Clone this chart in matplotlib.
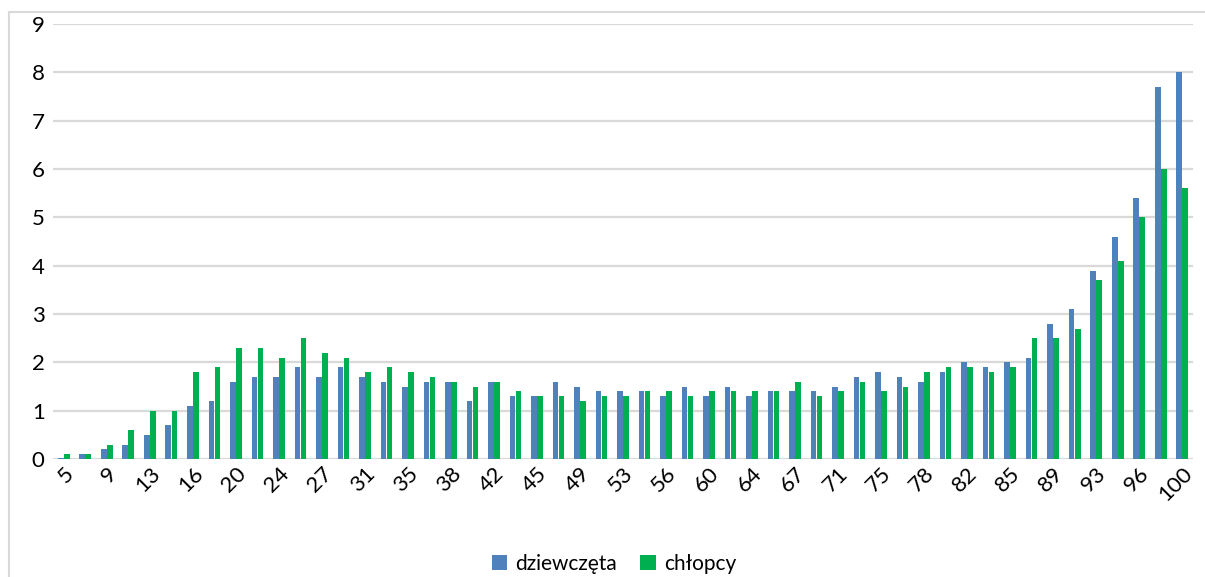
import numpy as np
import matplotlib
matplotlib.use("Agg")
import matplotlib.pyplot as plt
from matplotlib.lines import Line2D

plt.rcParams['font.family'] = ['Lato', 'DejaVu Sans']

tick_labels = ["5", "9", "13", "16", "20", "24", "27", "31", "35", "38", "42", "45", "49",
               "53", "56", "60", "64", "67", "71", "75", "78", "82", "85", "89", "93", "96", "100"]

dziewczeta = [0.02, 0.1, 0.2, 0.3, 0.5, 0.7, 1.1, 1.2, 1.6, 1.7, 1.7, 1.9, 1.7, 1.9, 1.7, 1.6,
              1.5, 1.6, 1.6, 1.2, 1.6, 1.3, 1.3, 1.6, 1.5, 1.4, 1.4, 1.4, 1.3, 1.5, 1.3, 1.5,
              1.3, 1.4, 1.4, 1.4, 1.5, 1.7, 1.8, 1.7, 1.6, 1.8, 2.0, 1.9, 2.0, 2.1, 2.8, 3.1,
              3.9, 4.6, 5.4, 7.7, 8.0]
chlopcy = [0.1, 0.1, 0.3, 0.6, 1.0, 1.0, 1.8, 1.9, 2.3, 2.3, 2.1, 2.5, 2.2, 2.1, 1.8, 1.9,
           1.8, 1.7, 1.6, 1.5, 1.6, 1.4, 1.3, 1.3, 1.2, 1.3, 1.3, 1.4, 1.4, 1.3, 1.4, 1.4,
           1.4, 1.4, 1.6, 1.3, 1.4, 1.6, 1.4, 1.5, 1.8, 1.9, 1.9, 1.8, 1.9, 2.5, 2.5, 2.7,
           3.7, 4.1, 5.0, 6.0, 5.6]

W, H = 1205, 577
fig = plt.figure(figsize=(W / 100, H / 100), dpi=100)
ax = fig.add_axes([53 / W, 1 - 459 / H, (1193 - 53) / W, (459 - 24) / H])

x = np.arange(len(dziewczeta))
bw = 0.26
ax.bar(x - bw / 2 - 0.01, dziewczeta, width=bw, color='#4f81bd', label='dziewczęta', zorder=3)
ax.bar(x + bw / 2 + 0.01, chlopcy, width=bw, color='#00b050', label='chłopcy', zorder=3)

ax.set_xlim(-0.5, len(x) - 0.5)
ax.set_ylim(0, 9)
ax.set_yticks(range(0, 10))
ax.yaxis.grid(True, color='#d9d9d9', linewidth=1.6, zorder=0)
ax.set_axisbelow(True)
for s in ax.spines.values():
    s.set_visible(False)
ax.tick_params(axis='both', length=0, labelsize=16, colors='#000000')
ax.tick_params(axis='y', pad=6)
ax.set_xticks(x[::2])
ax.set_xticklabels(tick_labels, rotation=45, ha='right', rotation_mode='anchor')
ax.tick_params(axis='x', pad=3)

leg = fig.legend(loc='center', bbox_to_anchor=(614 / W, 1 - 564 / H), ncol=2, frameon=False,
                 fontsize=15, handlelength=0.75, handleheight=0.75, handletextpad=0.4,
                 columnspacing=1.1)

# outer chart frame
fig.add_artist(Line2D([9 / W, 1.0], [1 - 12 / H, 1 - 12 / H], transform=fig.transFigure,
                      color='#d9d9d9', linewidth=1.5))
fig.add_artist(Line2D([9 / W, 9 / W], [0, 1 - 12 / H], transform=fig.transFigure,
                      color='#d9d9d9', linewidth=1.5))

fig.savefig('out.png', dpi=100, facecolor='white')
